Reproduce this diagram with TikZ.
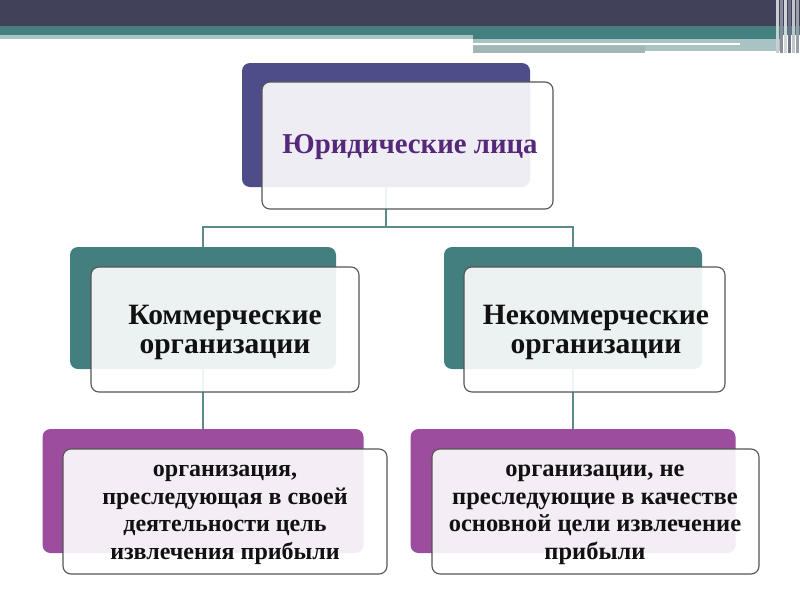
\documentclass[tikz,border=0pt]{standalone}
\usepackage{fontspec}
\setmainfont{Liberation Serif}
\begin{document}
\begin{tikzpicture}[x=1pt,y=-1pt,
  backbox/.style={rounded corners=8pt, draw=none, minimum width=#1, inner sep=0pt},
  frontbox/.style={rounded corners=8pt, draw=boxline, line width=1.1pt, fill=white, fill opacity=0.9, text opacity=1, inner sep=0pt, align=center},
  link/.style={draw=linkc, line width=1.1pt},
  lbl/.style={font=\bfseries, text=txt, align=center, inner sep=0pt}
]
\definecolor{barD}{HTML}{41425A}
\definecolor{barT}{HTML}{44807F}
\definecolor{barL}{HTML}{A9C3C3}
\definecolor{barG}{HTML}{A2B6B6}
\definecolor{blueB}{HTML}{4E4D8A}
\definecolor{tealB}{HTML}{437F7F}
\definecolor{purpB}{HTML}{9C4D9E}
\definecolor{boxline}{HTML}{555555}
\definecolor{linkc}{HTML}{5A8A8A}
\definecolor{txt}{HTML}{111111}
\definecolor{ttl}{HTML}{56287A}
\useasboundingbox (0,0) rectangle (800,600);
\fill[white] (0,0) rectangle (800,600);
% top bar
\fill[barD] (0,0) rectangle (800,26);
\fill[barT] (0,26) rectangle (800,35);
\fill[barL] (0,35) rectangle (473,39);
\fill[barT] (473,35) rectangle (780,39);
\fill[barL] (473,39) rectangle (783,53);
\fill[white] (473,43) rectangle (740,45);
\fill[barG] (473,46) rectangle (645,53);
\fill[white] (645,51) rectangle (783,53);
\foreach \x/\c in {776/C8CED4,780/8A8D99,784/D0D6DA,788/6F7282,792/C0C6CC,796/9A9EA8}{
  \definecolor{tmpc}{HTML}{\c}
  \fill[tmpc] (\x,0) rectangle ++(2.5,53);
}
% back boxes
\node[backbox=288pt, minimum height=124pt, fill=blueB] (tb) at (386,125) {};
\node[backbox=266pt, minimum height=122pt, fill=tealB] (lb) at (203,308) {};
\node[backbox=258pt, minimum height=122pt, fill=tealB] (rb) at (573,308) {};
\node[backbox=321pt, minimum height=124pt, fill=purpB] (blb) at (203,491) {};
\node[backbox=325pt, minimum height=124pt, fill=purpB] (brb) at (573,491) {};
% connectors
\coordinate (j) at (386,227);
\draw[link] (tb.south) -- (j) -| (lb.north);
\draw[link] (j) -| (rb.north);
\draw[link] (lb.south) -- (blb.north);
\draw[link] (rb.south) -- (brb.north);
% front boxes
\node[frontbox, minimum width=291pt, minimum height=127pt] (tf) at (407.5,145.5) {};
\node[frontbox, minimum width=268pt, minimum height=125pt] (lf) at (225,329.5) {};
\node[frontbox, minimum width=261pt, minimum height=125pt] (rf) at (594.5,329.5) {};
\node[frontbox, minimum width=324pt, minimum height=125pt] (blf) at (225,511.5) {};
\node[frontbox, minimum width=327pt, minimum height=125pt] (brf) at (595.5,511.5) {};
% labels
\node[lbl, text=ttl, font=\fontsize{28.8}{31}\selectfont\bfseries] (tt) at (410,147) {Юридические лица};
\node[lbl, font=\fontsize{29.5}{29}\selectfont\bfseries] (lt) at (225,332) {Коммерческие\\организации};
\node[lbl, font=\fontsize{29.5}{29}\selectfont\bfseries] (rt) at (596,332) {Некоммерческие\\организации};
\node[lbl, font=\fontsize{24}{27.5}\selectfont\bfseries] (blt) at (225,515) {организация,\\преследующая в своей\\деятельности цель\\извлечения прибыли};
\node[lbl, font=\fontsize{24.5}{27.5}\selectfont\bfseries] (brt) at (595,515) {организации, не\\преследующие в качестве\\основной цели извлечение\\прибыли};
\end{tikzpicture}
\end{document}
